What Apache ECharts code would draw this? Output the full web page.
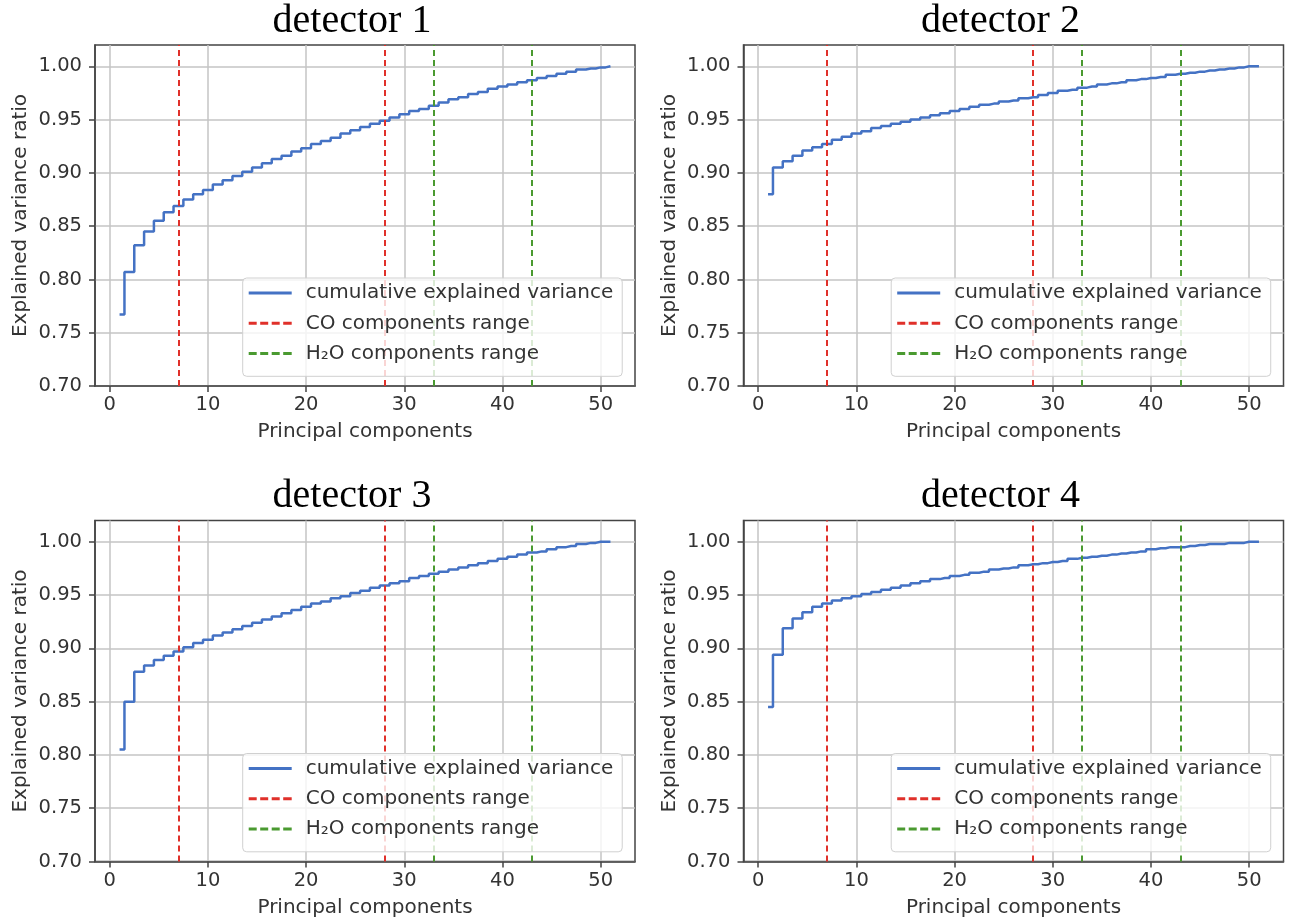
<!DOCTYPE html>
<html><head><meta charset="utf-8">
<script src="https://cdn.jsdelivr.net/npm/echarts@6/dist/echarts.min.js"></script>
<style>html,body{margin:0;padding:0;background:#fff}#c{width:1291px;height:921px}</style>
</head><body><div id="c"></div>
<script>
// ---- data ----
const components = [1,2,3,4,5,6,7,8,9,10,11,12,13,14,15,16,17,18,19,20,21,22,23,24,25,26,27,28,29,30,31,32,33,34,35,36,37,38,39,40,41,42,43,44,45,46,47,48,49,50,51];
const detector1 = [0.767,0.807,0.832,0.845,0.855,0.863,0.869,0.875,0.880,0.884,0.889,0.893,0.897,0.901,0.905,0.909,0.913,0.916,0.920,0.923,0.927,0.930,0.933,0.937,0.940,0.943,0.946,0.949,0.952,0.955,0.958,0.960,0.963,0.966,0.969,0.971,0.974,0.976,0.979,0.981,0.983,0.985,0.987,0.989,0.991,0.993,0.995,0.997,0.998,0.999,1.000];
const detector2 = [0.880,0.905,0.911,0.916,0.921,0.924,0.927,0.931,0.934,0.937,0.939,0.942,0.944,0.946,0.948,0.950,0.952,0.954,0.956,0.958,0.960,0.962,0.964,0.965,0.967,0.968,0.970,0.971,0.973,0.975,0.977,0.978,0.980,0.981,0.983,0.984,0.985,0.987,0.988,0.989,0.990,0.992,0.993,0.994,0.995,0.996,0.997,0.998,0.999,1.000,1.000];
const detector3 = [0.805,0.850,0.878,0.884,0.889,0.893,0.897,0.901,0.905,0.908,0.912,0.915,0.918,0.921,0.924,0.927,0.930,0.933,0.936,0.939,0.942,0.944,0.947,0.949,0.952,0.954,0.957,0.959,0.961,0.963,0.966,0.968,0.970,0.972,0.974,0.976,0.978,0.980,0.982,0.984,0.986,0.988,0.990,0.991,0.993,0.995,0.996,0.998,0.999,1.000,1.000];
const detector4 = [0.845,0.894,0.919,0.928,0.934,0.939,0.942,0.945,0.947,0.949,0.951,0.953,0.955,0.957,0.959,0.961,0.963,0.965,0.966,0.968,0.969,0.971,0.972,0.974,0.975,0.976,0.978,0.979,0.980,0.981,0.982,0.984,0.985,0.986,0.987,0.988,0.989,0.990,0.991,0.993,0.994,0.995,0.995,0.996,0.997,0.998,0.998,0.999,0.999,1.000,1.000];
const coRange = [7, 28];
const h2oRange = [33, 43];
const xTicks = [0, 10, 20, 30, 40, 50];
const yTicks = [0.70, 0.75, 0.80, 0.85, 0.90, 0.95, 1.00];
const titles = ['detector 1', 'detector 2', 'detector 3', 'detector 4'];
const seriesNames = ['cumulative explained variance', 'CO components range', 'H\u2082O components range'];

// ---- layout ----
const panels = [
  {left: 95,    top: 45},
  {left: 743.5, top: 45},
  {left: 95,    top: 520.5},
  {left: 743.5, top: 520.5}
];
const W = 540, H = 341;
const allData = [detector1, detector2, detector3, detector4];
const FONT = 'DejaVu Sans';
const TXT = '#333';
const BLUE = '#4472c4', RED = '#e0302a', GREEN = '#4a9a30';
const SOLID_ICON = 'path://M0,0h43v3h-43z';
const DASH_ICON = 'path://M0,0h8v3h-8zM11.5,0h8v3h-8zM23,0h8v3h-8zM34.5,0h8.5v3h-8.5z';

const grid = [], xAxis = [], yAxis = [], series = [], legend = [], graphic = [];
panels.forEach((p, i) => {
  grid.push({left: p.left, top: p.top, width: W, height: H, show: true,
    borderColor: '#444', borderWidth: 1.5, backgroundColor: 'transparent', containLabel: false});
  xAxis.push({type: 'value', gridIndex: i, min: -1.5, max: 53.5,
    name: 'Principal components', nameLocation: 'middle', nameGap: 36,
    nameTextStyle: {fontFamily: FONT, fontSize: 20, color: TXT},
    axisLine: {show: true, onZero: false, lineStyle: {color: '#444', width: 1.5}},
    axisTick: {show: true, inside: false, length: 6, customValues: xTicks, lineStyle: {color: '#444', width: 1.5}},
    axisLabel: {customValues: xTicks, margin: 9, fontFamily: FONT, fontSize: 19.5, color: TXT},
    splitLine: {show: true, lineStyle: {color: '#c4c4c4', width: 1.5}}
  });
  yAxis.push({type: 'value', gridIndex: i, min: 0.70, max: 1.02,
    name: 'Explained variance ratio', nameLocation: 'middle', nameGap: 64, nameRotate: 90,
    nameTextStyle: {fontFamily: FONT, fontSize: 20, color: TXT},
    axisLine: {show: true, onZero: false, lineStyle: {color: '#444', width: 1.5}},
    axisTick: {show: true, inside: false, length: 6, customValues: yTicks, lineStyle: {color: '#444', width: 1.5}},
    axisLabel: {customValues: yTicks, margin: 13, fontFamily: FONT, fontSize: 19.5, color: TXT,
      formatter: v => v.toFixed(2)},
    splitLine: {show: true, lineStyle: {color: '#c4c4c4', width: 1.5}}
  });
  series.push({name: seriesNames[0], type: 'line', xAxisIndex: i, yAxisIndex: i, step: 'middle',
    symbol: 'none', data: components.map((c, k) => [c, allData[i][k]]),
    lineStyle: {color: BLUE, width: 2.5}, itemStyle: {color: BLUE}, z: 3, silent: true});
  series.push({name: seriesNames[1], type: 'line', xAxisIndex: i, yAxisIndex: i, symbol: 'none', data: [],
    lineStyle: {color: RED, width: 2, type: [6, 4]}, itemStyle: {color: RED},
    markLine: {silent: true, symbol: 'none', label: {show: false}, animation: false,
      lineStyle: {color: RED, width: 2, type: [6, 4]},
      data: coRange.map(v => ({xAxis: v}))}, z: 4});
  series.push({name: seriesNames[2], type: 'line', xAxisIndex: i, yAxisIndex: i, symbol: 'none', data: [],
    lineStyle: {color: GREEN, width: 2, type: [6, 4]}, itemStyle: {color: GREEN},
    markLine: {silent: true, symbol: 'none', label: {show: false}, animation: false,
      lineStyle: {color: GREEN, width: 2, type: [6, 4]},
      data: h2oRange.map(v => ({xAxis: v}))}, z: 4});
  legend.push({
    data: [
      {name: seriesNames[0], icon: SOLID_ICON, itemStyle: {color: BLUE}},
      {name: seriesNames[1], icon: DASH_ICON, itemStyle: {color: RED}},
      {name: seriesNames[2], icon: DASH_ICON, itemStyle: {color: GREEN}}
    ],
    orient: 'vertical', left: p.left + 147.7, top: p.top + 233,
    itemWidth: 43, itemHeight: 3, itemGap: 10.3, padding: [5, 9, 12.7, 6],
    backgroundColor: 'rgba(255,255,255,0.8)', borderColor: '#d0d0d0', borderWidth: 1, borderRadius: 4,
    textStyle: {fontFamily: FONT, fontSize: 20, color: TXT, lineHeight: 20, padding: [0, 0, 0, 9]},
    selectedMode: false, z: 10});
  graphic.push({type: 'text', x: p.left + W / 2 - 13, y: p.top - 24, z: 10,
    style: {text: titles[i], fontFamily: 'Liberation Serif', fontSize: 40, fill: '#000',
      align: 'center', verticalAlign: 'middle'}});
});

const chart = echarts.init(document.getElementById('c'), null, {renderer: 'canvas'});
chart.setOption({animation: false, backgroundColor: '#fff', grid, xAxis, yAxis, series, legend, graphic});
</script></body></html>
